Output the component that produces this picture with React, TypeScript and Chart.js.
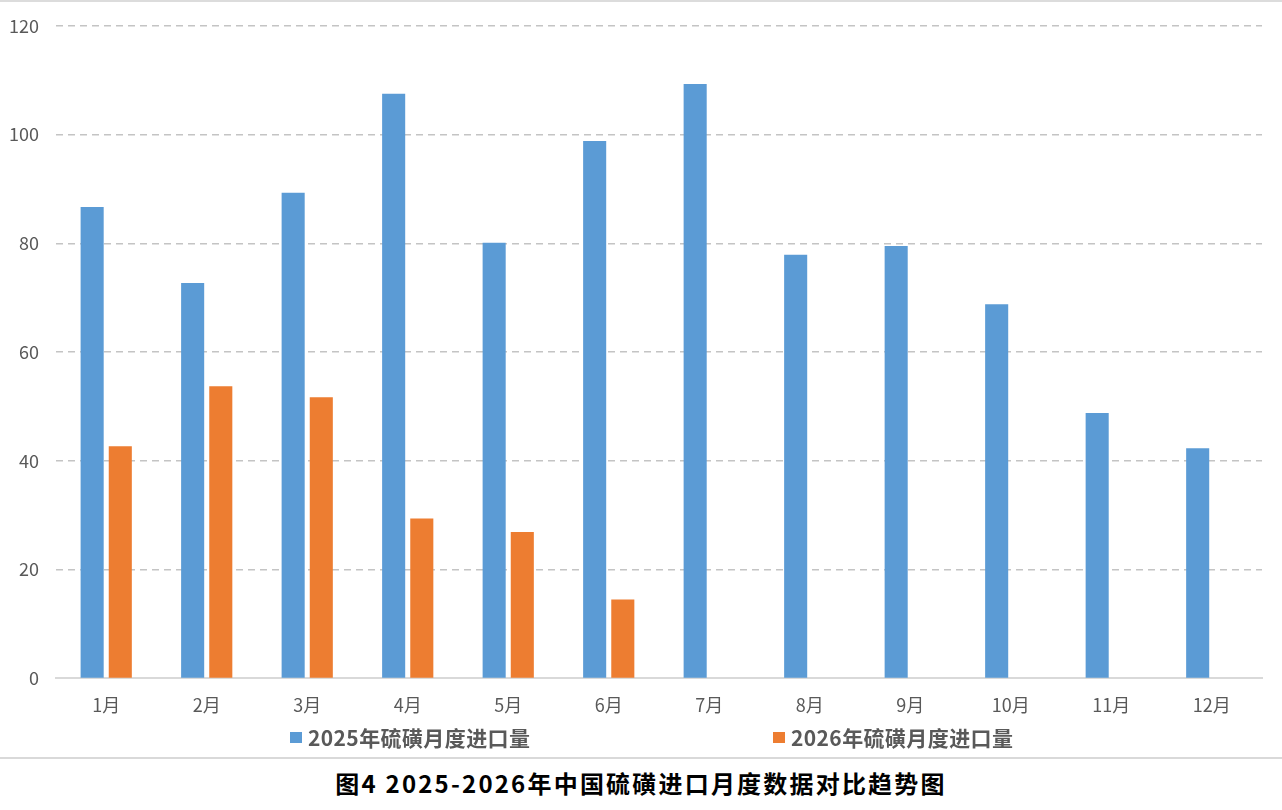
import { useEffect, useRef } from "react"
import { Chart, registerables } from "chart.js"

Chart.register(...registerables)

const months = ["1月", "2月", "3月", "4月", "5月", "6月", "7月", "8月", "9月", "10月", "11月", "12月"]
const seriesNames = ["2025年硫磺月度进口量", "2026年硫磺月度进口量"]
const imports2025 = [86.7, 72.7, 89.3, 107.5, 80.1, 98.8, 109.3, 77.9, 79.5, 68.8, 48.8, 42.3]
const imports2026 = [42.7, 53.7, 51.7, 29.4, 26.9, 14.5, null, null, null, null, null, null]
const seriesColors = ["#5B9BD5", "#ED7D31"]
const yTicks = [0, 20, 40, 60, 80, 100, 120]
const title = "图4 2025-2026年中国硫磺进口月度数据对比趋势图"

const FONT = "'Noto Sans CJK SC', 'Noto Sans', sans-serif"

export default function App() {
  const chartRef = useRef<HTMLCanvasElement>(null)
  const chartInstance = useRef<Chart | null>(null)

  useEffect(() => {
    if (!chartRef.current) return
    if (chartInstance.current) chartInstance.current.destroy()

    const ctx = chartRef.current.getContext("2d")
    if (!ctx) return

    chartInstance.current = new Chart(ctx, {
      type: "bar",
      data: {
        labels: months,
        datasets: [
          {
            label: seriesNames[0],
            data: imports2025,
            backgroundColor: seriesColors[0],
            categoryPercentage: 0.56,
            barPercentage: 0.82,
          },
          {
            label: seriesNames[1],
            data: imports2026,
            backgroundColor: seriesColors[1],
            categoryPercentage: 0.56,
            barPercentage: 0.82,
          },
        ],
      },
      options: {
        animation: false,
        responsive: true,
        maintainAspectRatio: false,
        layout: {
          padding: { left: 0, right: 20, top: 10, bottom: 25 },
        },
        scales: {
          x: {
            grid: { display: false, drawTicks: false },
            border: { display: true, color: "#d9d9d9", width: 2 },
            ticks: {
              padding: 16,
              color: "#595959",
              font: { family: FONT, size: 18 },
            },
          },
          y: {
            min: yTicks[0],
            max: yTicks[yTicks.length - 1],
            afterBuildTicks: (axis) => {
              axis.ticks = yTicks.map((v) => ({ value: v }))
            },
            grid: {
              drawTicks: false,
              lineWidth: 1.5,
              color: (c) => (c.tick && c.tick.value === 0 ? "rgba(0,0,0,0)" : "#c4c4c4"),
            },
            border: { display: false, dash: [7, 5] },
            ticks: {
              padding: 17,
              color: "#595959",
              font: { family: FONT, size: 18 },
            },
          },
        },
        plugins: {
          legend: { display: false },
          tooltip: { enabled: false },
        },
      },
    })

    return () => {
      if (chartInstance.current) {
        chartInstance.current.destroy()
        chartInstance.current = null
      }
    }
  }, [])

  const legendLeft = [290, 773]

  return (
    <div
      style={{
        position: "absolute",
        left: 0,
        top: 0,
        width: 1282,
        height: 810,
        background: "#fff",
        fontFamily: FONT,
        overflow: "hidden",
      }}
    >
      <div style={{ position: "absolute", left: 0, top: 0, width: 1282, height: 2, background: "#dcdcdc" }} />
      <div style={{ position: "absolute", left: -8, top: -2, width: 1290, height: 759 }}>
        <canvas ref={chartRef} />
      </div>
      {seriesNames.map((name, i) => (
        <div
          key={name}
          style={{
            position: "absolute",
            left: legendLeft[i],
            top: 723,
            height: 28,
            display: "flex",
            alignItems: "center",
            color: "#595959",
            fontWeight: 700,
            fontSize: 21,
            letterSpacing: 0.4,
            whiteSpace: "nowrap",
          }}
        >
          <span style={{ display: "inline-block", width: 12, height: 11, background: seriesColors[i], marginRight: 6 }} />
          {name}
        </div>
      ))}
      <div style={{ position: "absolute", left: 0, top: 757, width: 1282, height: 2, background: "#d9d9d9" }} />
      <div
        style={{
          position: "absolute",
          left: 0,
          top: 766,
          width: 1282,
          textAlign: "center",
          fontSize: 24,
          fontWeight: 700,
          letterSpacing: 2.2,
          color: "#000",
          lineHeight: "34px",
        }}
      >
        {title}
      </div>
    </div>
  )
}
